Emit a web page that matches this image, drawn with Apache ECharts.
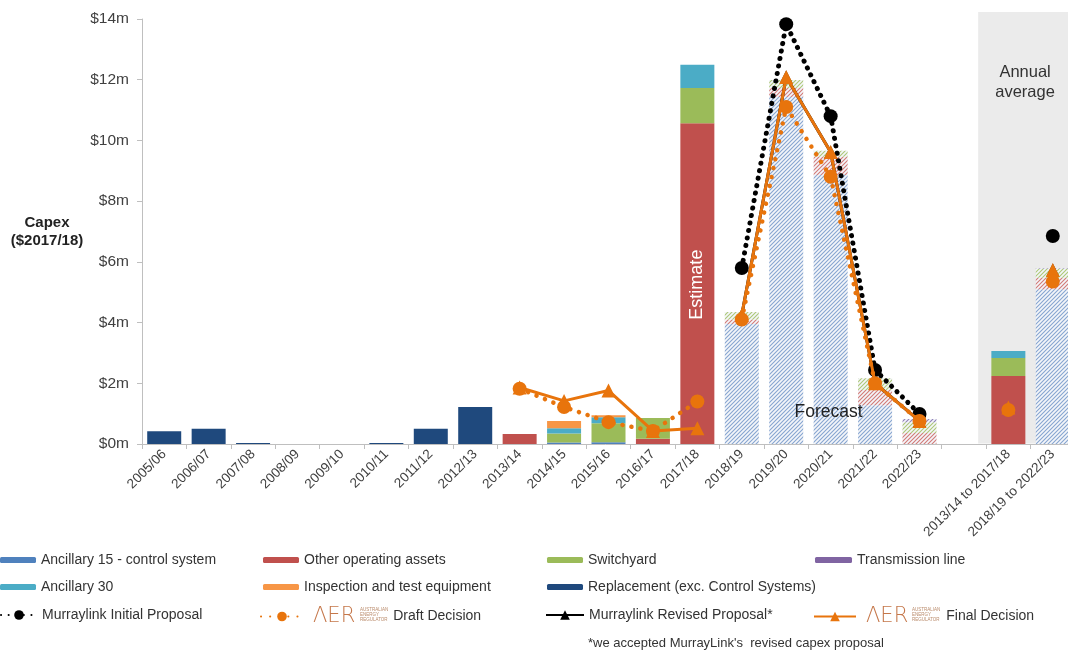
<!DOCTYPE html>
<html><head><meta charset="utf-8">
<script src="https://cdn.jsdelivr.net/npm/echarts@6/dist/echarts.min.js"></script>
<style>html,body{margin:0;padding:0;background:#fff}#c{width:1068px;height:651px}</style>
</head><body><div id="c"></div>
<script>
// ---------- DATA ----------
const categories = ['2005/06','2006/07','2007/08','2008/09','2009/10','2010/11','2011/12','2012/13','2013/14','2014/15','2015/16','2016/17','2017/18','2018/19','2019/20','2020/21','2021/22','2022/23','','2013/14 to 2017/18','2018/19 to 2022/23'];
const forecastIdx = [13,14,15,16,17,20];
const yTicks = [0,2,4,6,8,10,12,14];

const ancillary15    = [0,0,0,0,0,0,0,0,0,0.05,0.06,0,0,3.95,11.43,8.86,1.28,0,null,0,5.10];
const replacement    = [0.42,0.50,0.03,0,0,0.03,0.50,1.22,0,0,0,0,0,0,0,0,0,0,null,0,0];
const otherOperating = [0,0,0,0,0,0,0,0,0.33,0,0,0.17,10.57,0.15,0.30,0.60,0.50,0.36,null,2.24,0.38];
const switchyard     = [0,0,0,0,0,0,0,0,0,0.30,0.62,0.69,1.16,0.25,0.26,0.20,0.39,0.36,null,0.59,0.29];
const ancillary30    = [0,0,0,0,0,0,0,0,0,0.17,0.20,0,0.76,0,0,0,0,0,null,0.23,0];
const inspection     = [0,0,0,0,0,0,0,0,0,0.24,0.07,0,0,0,0,0,0,0,null,0,0];
const transmission   = [0,0,0,0,0,0,0,0,0,0,0,0,0,0,0,0,0,0.10,null,0,0.02];

const initialProposal = [null,null,null,null,null,null,null,null,null,null,null,null,null,5.80,13.83,10.80,2.44,0.99,null,null,6.85];
const revisedProposal = [null,null,null,null,null,null,null,null,null,null,null,null,null,4.25,12.09,9.62,2.00,0.76,null,null,5.73];
const draftHist  = [null,null,null,null,null,null,null,null,1.82,1.22,0.72,0.43,1.40,null,null,null,null,null,null,1.12,null];
const draftFcst  = [null,null,null,null,null,null,null,null,null,null,null,null,null,4.10,11.10,8.80,2.00,0.76,null,null,5.35];
const finalHist  = [null,null,null,null,null,null,null,null,1.86,1.42,1.76,0.43,0.52,null,null,null,null,null,null,1.20,null];
const finalFcst  = [null,null,null,null,null,null,null,null,null,null,null,null,null,4.25,12.09,9.62,2.00,0.76,null,null,5.73];

// ---------- STYLE ----------
const FONT = 'Liberation Sans, Arial, sans-serif';
const ORANGE = '#e8740c';
function hatch(color){
  const s = 4, c = document.createElement('canvas');
  c.width = s; c.height = s;
  const g = c.getContext('2d');
  g.fillStyle = '#f4f6fa'; g.fillRect(0,0,s,s);
  g.strokeStyle = color; g.lineWidth = 1.1;
  g.beginPath();
  g.moveTo(-1,1); g.lineTo(1,-1);
  g.moveTo(0,s); g.lineTo(s,0);
  g.moveTo(s-1,s+1); g.lineTo(s+1,s-1);
  g.stroke();
  return {image: c, repeat: 'repeat'};
}
function barSeries(name, arr, color, hatchColor){
  const pat = hatch(hatchColor);
  return {
    name, type:'bar', stack:'capex', barWidth:34, z:2,
    itemStyle:{color},
    data: arr.map((v,i)=> forecastIdx.includes(i) ? {value:v, itemStyle:{color:pat}} : v)
  };
}

const chart = echarts.init(document.getElementById('c'), null, {renderer:'canvas'});

const legendDefs = [
  ['Ancillary 15 - control system', 0, 560, 'bar', 36],
  ['Other operating assets', 263, 560, 'bar', 36],
  ['Switchyard', 547, 560, 'bar', 36],
  ['Transmission line', 815, 560, 'bar', 37],
  ['Ancillary 30', 0, 587, 'bar', 36],
  ['Inspection and test equipment', 263, 587, 'bar', 36],
  ['Replacement (exc. Control Systems)', 547, 587, 'bar', 36],
  ['Murraylink Initial Proposal', 0, 615, 'line', 36],
  ['Draft Decision', 260, 615, 'line', 42],
  ['Murraylink Revised Proposal*', 545, 615, 'line', 38],
  ['Final Decision', 813, 615, 'line', 42]
];
const legends = legendDefs.map(([name, left, cy, kind, w]) => ({
  data:[name], left, top: cy - 9, selectedMode:false, padding:0,
  itemWidth: w, itemHeight: kind==='bar' ? 6 : 12, itemGap: 0,
  textStyle:{fontFamily:FONT, fontSize:14, color:'#333', lineHeight:18,
    rich:{logo:{fontFamily:'DejaVu Sans', fontWeight:200, fontSize:21, lineHeight:18, color:'#c5774a', padding:[0,0,0,5]},
          gap:{width:38, lineHeight:18}}},
  formatter: (n) => (n==='Draft Decision'||n==='Final Decision') ? '{logo|ΛER}{gap| }' + n : n
}));

const option = {
  animation:false,
  backgroundColor:'#fff',
  textStyle:{fontFamily:FONT},
  grid:{left:142, top:19, bottom:207, width:933, containLabel:false, outerBoundsMode:'none'},
  legend: legends,
  xAxis:{
    type:'category', data:categories,
    axisLine:{lineStyle:{color:'#bfbfbf', width:1}},
    axisTick:{show:true, interval:0, lineStyle:{color:'#bfbfbf'}, length:5},
    axisLabel:{interval:0, rotate:45, fontSize:13.5, color:'#404040', margin:8, fontFamily:FONT}
  },
  yAxis:{
    type:'value', min:yTicks[0], max:yTicks[yTicks.length-1], interval:2,
    axisLine:{show:true, lineStyle:{color:'#bfbfbf'}},
    axisTick:{show:true, length:5, lineStyle:{color:'#bfbfbf'}},
    splitLine:{show:false},
    axisLabel:{formatter:'${value}m', fontSize:15.5, color:'#404040', margin:13, fontFamily:FONT}
  },
  series:[
    barSeries('Ancillary 15 - control system', ancillary15, '#4f81bd', '#86a5d0'),
    barSeries('Replacement (exc. Control Systems)', replacement, '#1f497d', '#1f497d'),
    barSeries('Other operating assets', otherOperating, '#c0504d', '#d27a77'),
    barSeries('Switchyard', switchyard, '#9bbb59', '#acc877'),
    barSeries('Ancillary 30', ancillary30, '#4bacc6', '#4bacc6'),
    barSeries('Inspection and test equipment', inspection, '#f79646', '#f79646'),
    barSeries('Transmission line', transmission, '#8064a2', '#8f80b8'),
    {name:'Murraylink Revised Proposal*', type:'line', data:revisedProposal, z:3,
      symbol:'triangle', symbolSize:13, itemStyle:{color:'#000'}, lineStyle:{color:'#000', width:3}},
    {name:'Murraylink Initial Proposal', type:'line', data:initialProposal, z:4,
      symbol:'circle', symbolSize:14, itemStyle:{color:'#000'},
      lineStyle:{color:'#000', width:5, type:[0.1,7.5], cap:'round'}},
    {name:'Final Decision', type:'line', data:finalHist, z:5,
      symbol:'triangle', symbolSize:14, itemStyle:{color:ORANGE}, lineStyle:{color:ORANGE, width:3}},
    {name:'Final Decision', type:'line', data:finalFcst, z:5,
      symbol:'triangle', symbolSize:14, itemStyle:{color:ORANGE}, lineStyle:{color:ORANGE, width:3}},
    {name:'Draft Decision', type:'line', data:draftHist, z:6,
      symbol:'circle', symbolSize:14, itemStyle:{color:ORANGE},
      lineStyle:{color:ORANGE, width:4.5, type:[0.1,9], cap:'round'}},
    {name:'Draft Decision', type:'line', data:draftFcst, z:6,
      symbol:'circle', symbolSize:14, itemStyle:{color:ORANGE},
      lineStyle:{color:ORANGE, width:4.5, type:[0.1,9], cap:'round'}}
  ]
};
chart.setOption(option);

// annotations placed from axis coordinates
const px = i => chart.convertToPixel({xAxisIndex:0}, i);
const py = v => chart.convertToPixel({yAxisIndex:0}, v);
const band = px(1) - px(0);
const gx = px(18) + 0.32*band;
const gTop = py(14.23), gBot = py(0);
const tiny = (x, y) => ({type:'text', x, y, z:100,
  style:{text:'AUSTRALIAN\nENERGY\nREGULATOR', font:'4.5px '+FONT, fill:'#b98a6a', lineHeight:5, verticalAlign:'middle'}});
chart.setOption({graphic:[
  {type:'rect', z:-1, shape:{x:gx, y:gTop, width:1068-gx, height:gBot-gTop-0.5}, style:{fill:'#ebebeb'}},
  {type:'text', z:100, x:(gx+1068)/2 + 2, y:py(11.9),
    style:{text:'Annual\naverage', font:'16.5px '+FONT, fill:'#333', align:'center', verticalAlign:'middle', lineHeight:20}},
  {type:'text', z:100, x:px(12), y:py(5.25), rotation:Math.PI/2,
    style:{text:'Estimate', font:'18px '+FONT, fill:'#fff', align:'center', verticalAlign:'middle'}},
  {type:'text', z:100, x:px(15) - 2, y:py(1.05),
    style:{text:'Forecast', font:'17.5px '+FONT, fill:'#222', align:'center', verticalAlign:'middle'}},
  {type:'text', z:100, x:47, y:232,
    style:{text:'Capex\n($2017/18)', font:'bold 15px '+FONT, fill:'#222', align:'center', verticalAlign:'middle', lineHeight:18}},
  {type:'text', z:100, x:588, y:643,
    style:{text:"*we accepted MurrayLink's  revised capex proposal", font:'13px '+FONT, fill:'#333', verticalAlign:'middle'}},
  tiny(360, 615),
  tiny(912, 615)
]});
</script>
</body></html>
